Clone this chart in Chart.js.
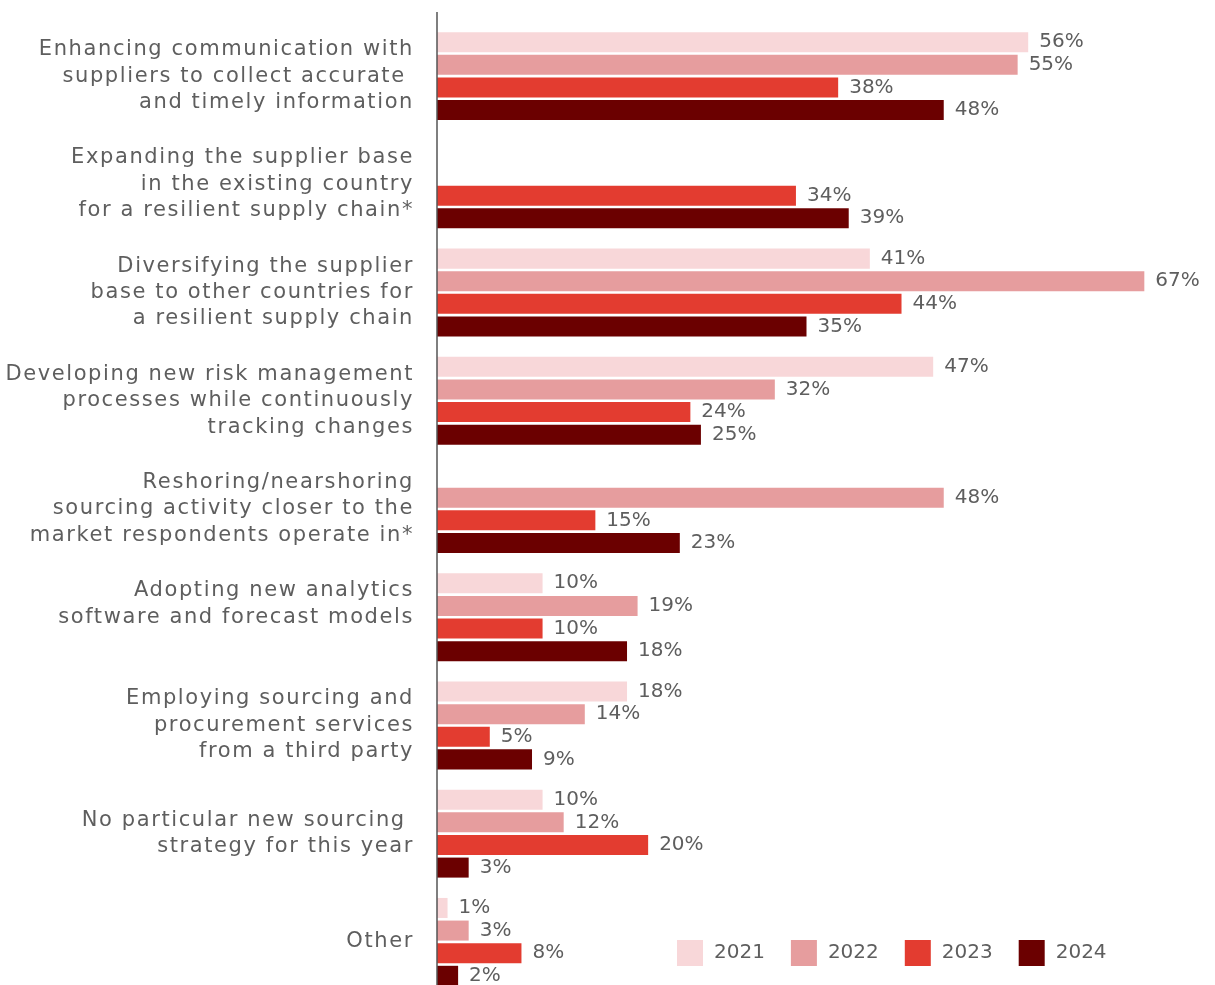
<!DOCTYPE html>
<html>
<head>
<meta charset="utf-8">
<title>New sourcing strategies</title>
<script src="https://cdn.jsdelivr.net/npm/chart.js@4.4.0/dist/chart.umd.min.js"></script>
<style>
  html, body { margin: 0; padding: 0; background: #fff; overflow: hidden; }
  #wrap { position: relative; width: 1215px; height: 996px; }
</style>
</head>
<body>
<div id="wrap"><canvas id="sourcing"></canvas></div>
<script>
const categories = [
    ['Enhancing communication with', 'suppliers to collect accurate ', 'and timely information'],
    ['Expanding the supplier base', 'in the existing country', 'for a resilient supply chain*'],
    ['Diversifying the supplier', 'base to other countries for', 'a resilient supply chain'],
    ['Developing new risk management', 'processes while continuously', 'tracking changes'],
    ['Reshoring/nearshoring', 'sourcing activity closer to the', 'market respondents operate in*'],
    ['Adopting new analytics', 'software and forecast models', ''],
    ['Employing sourcing and', 'procurement services', 'from a third party'],
    ['No particular new sourcing ', 'strategy for this year'],
    'Other'
];
const years = ['2021', '2022', '2023', '2024'];
const values2021 = [56, null, 41, 47, null, 10, 18, 10, 1];
const values2022 = [55, null, 67, 32, 48, 19, 14, 12, 3];
const values2023 = [38, 34, 44, 24, 15, 10, 5, 20, 8];
const values2024 = [48, 39, 35, 25, 23, 18, 9, 3, 2];
const colors = ['#f8d7d9', '#e69d9e', '#e33c30', '#6b0000'];

const FONT = '"DejaVu Sans", sans-serif';
const TEXT = '#5e5e5e';

// wider tracking for the category labels (drawn before the bars)
const tracking = {
    id: 'tracking',
    beforeDraw(chart) {
        chart.ctx.letterSpacing = '1.6px';
    }
};

// percentage printed just past the end of each bar
const valueLabels = {
    id: 'valueLabels',
    afterDatasetsDraw(chart) {
        const ctx = chart.ctx;
        ctx.save();
        ctx.letterSpacing = '0px';
        ctx.font = '20px ' + FONT;
        ctx.fillStyle = TEXT;
        ctx.textBaseline = 'middle';
        chart.data.datasets.forEach((ds, i) => {
            chart.getDatasetMeta(i).data.forEach((bar, j) => {
                const v = ds.data[j];
                if (v == null) return;
                ctx.fillText(v + '%', bar.x + 11, bar.y);
            });
        });
        ctx.restore();
    }
};

// vertical axis line, runs a little above the first group
const axisLine = {
    id: 'axisLine',
    afterDatasetsDraw(chart) {
        const ctx = chart.ctx;
        const x = chart.chartArea.left;
        ctx.save();
        ctx.strokeStyle = '#555';
        ctx.lineWidth = 1.5;
        ctx.beginPath();
        ctx.moveTo(x, 12);
        ctx.lineTo(x, chart.height);
        ctx.stroke();
        ctx.restore();
    }
};

// legend sitting in the lower right of the plot
const yearLegend = {
    id: 'yearLegend',
    afterDraw(chart) {
        const ctx = chart.ctx;
        const box = 26;
        const cy = 953;
        let x = 677;
        ctx.save();
        ctx.letterSpacing = '0px';
        ctx.font = '20px ' + FONT;
        ctx.textBaseline = 'middle';
        chart.data.datasets.forEach(ds => {
            ctx.fillStyle = ds.backgroundColor;
            ctx.fillRect(x, cy - box / 2, box, box);
            x += box + 11;
            ctx.fillStyle = TEXT;
            ctx.fillText(ds.label, x, cy);
            x += ctx.measureText(ds.label).width + 26;
        });
        ctx.restore();
    }
};

const series = [values2021, values2022, values2023, values2024];

new Chart(document.getElementById('sourcing'), {
    type: 'bar',
    data: {
        labels: categories,
        datasets: series.map((vals, i) => ({
            label: years[i],
            data: vals,
            backgroundColor: colors[i],
            categoryPercentage: 0.836,
            barPercentage: 0.885
        }))
    },
    options: {
        indexAxis: 'y',
        responsive: true,
        maintainAspectRatio: false,
        animation: false,
        devicePixelRatio: 1,
        layout: { padding: { top: 22, right: 39, left: 0, bottom: 0 } },
        plugins: {
            legend: { display: false },
            tooltip: { enabled: false }
        },
        scales: {
            x: {
                display: false,
                min: 0,
                max: 70
            },
            y: {
                afterFit(scale) {
                    scale.width = 437;
                    scale.paddingTop = 0;
                    scale.paddingBottom = 0;
                },
                grid: { display: false, drawTicks: false },
                border: { display: false },
                ticks: {
                    padding: 23,
                    color: TEXT,
                    font: { family: FONT, size: 21, lineHeight: 1.26 }
                }
            }
        }
    },
    plugins: [tracking, valueLabels, axisLine, yearLegend]
});
</script>
</body>
</html>
